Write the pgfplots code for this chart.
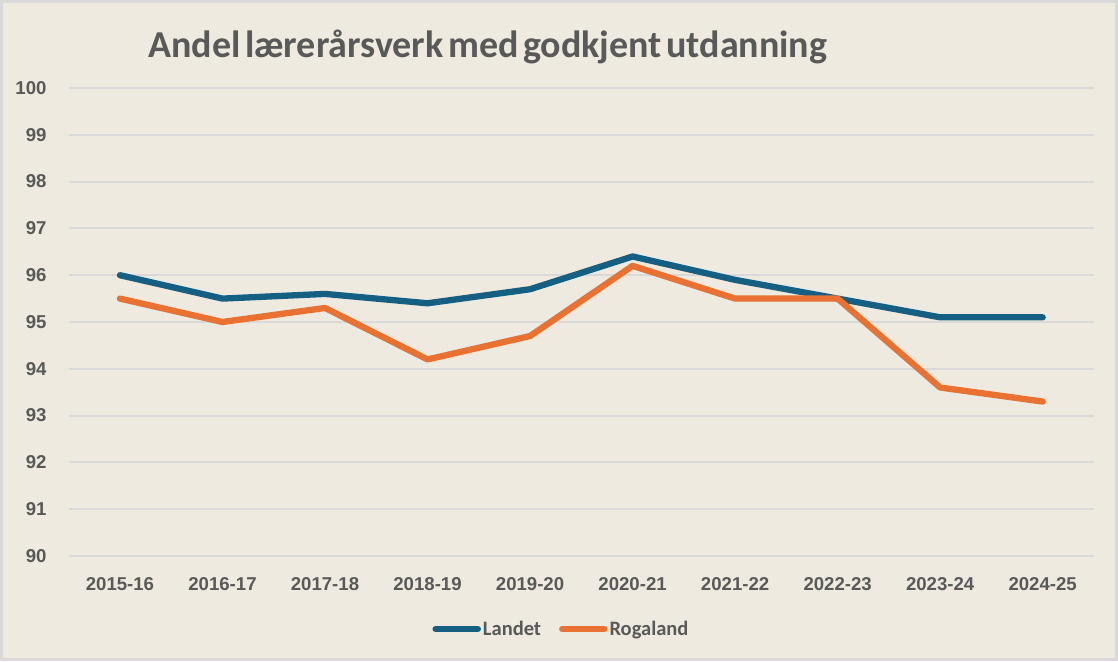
\documentclass[border=0pt]{standalone}
\usepackage{fontspec}
\setmainfont{Liberation Sans}
\newfontfamily\titlefont{Carlito}
\usepackage{pgfplots}
\pgfplotsset{compat=1.18}
\definecolor{bgc}{HTML}{EEEADF}
\definecolor{bordc}{HTML}{D9D9D9}
\definecolor{gridc}{HTML}{D9D9D9}
\definecolor{txtc}{HTML}{595959}
\definecolor{landet}{HTML}{156082}
\definecolor{rogaland}{HTML}{E97132}
\begin{document}
\begin{tikzpicture}[x=1pt,y=1pt]
\path[use as bounding box] (0,0) rectangle (1118,661);
\fill[bgc] (0,0) rectangle (1118,661);
\draw[bordc, line width=3pt] (1.5,1.5) rectangle (1116.5,659.5);
\node[font=\titlefont\bfseries\fontsize{38}{44}\selectfont, text=txtc, anchor=base west, inner sep=0pt] at (148,603.7) {\spaceskip=0.12em\relax Andel lærerårsverk med godkjent utdanning};
\begin{axis}[
  at={(68.7pt,105pt)}, anchor=south west,
  width=1025.3pt, height=468pt, scale only axis,
  xmin=-0.5, xmax=9.5, ymin=90, ymax=100,
  xtick={0,...,9},
  xticklabels={2015-16,2016-17,2017-18,2018-19,2019-20,2020-21,2021-22,2022-23,2023-24,2024-25},
  ytick={90,...,100},
  ymajorgrids, grid style={gridc, line width=2pt},
  axis line style={draw=none}, tick style={draw=none},
  /pgf/number format/assume math mode=true,
  ticklabel style={font=\bfseries\fontsize{18.6}{20}\selectfont, text=txtc, inner sep=0pt},
  yticklabel style={anchor=east, xshift=-22pt},
  xticklabel style={anchor=north, yshift=-21.7pt},
  legend columns=2,
  legend style={at={(0.4806,-0.156)}, anchor=center, draw=none, fill=none,
    font=\titlefont\bfseries\fontsize{20.5}{24}\selectfont, text=txtc,
    /tikz/every even column/.append style={column sep=16pt}},
  legend image code/.code={\draw[#1, line width=6.5pt, line cap=round] (0pt,0pt) -- (42pt,0pt);},
]
\addplot[landet, line width=6.3pt, line join=round, line cap=round] coordinates {
(0,96.0) (1,95.5) (2,95.6) (3,95.4) (4,95.7) (5,96.4) (6,95.9) (7,95.5) (8,95.1) (9,95.1)};
\addlegendentry{Landet}
\addplot[rogaland, line width=6.3pt, line join=round, line cap=round] coordinates {
(0,95.5) (1,95.0) (2,95.3) (3,94.2) (4,94.7) (5,96.2) (6,95.5) (7,95.5) (8,93.6) (9,93.3)};
\addlegendentry{Rogaland}
\end{axis}
\end{tikzpicture}
\end{document}
